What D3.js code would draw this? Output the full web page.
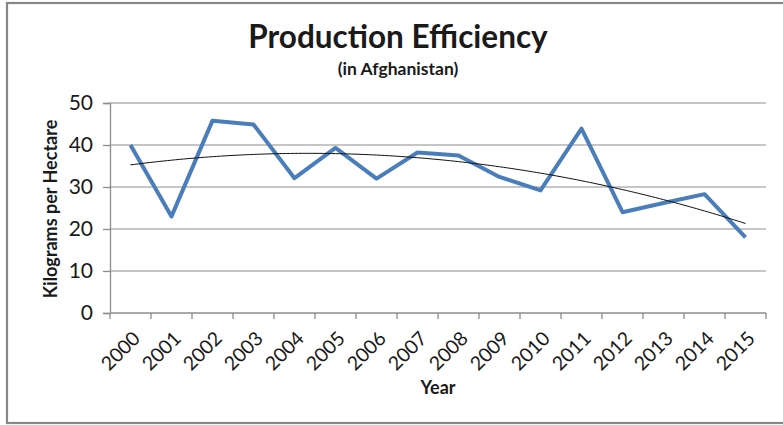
<!DOCTYPE html>
<html>
<head>
<meta charset="utf-8">
<script src="https://cdn.jsdelivr.net/npm/d3@7"></script>
<style>
  html, body { margin: 0; padding: 0; background: #fff; }
  svg { display: block; }
  text { font-family: Lato, "Open Sans", sans-serif; fill: #1a1a1a; }
</style>
</head>
<body>
<svg id="chart" width="783" height="425"></svg>
<script>
// Yield per year, kilograms per hectare
const years = ["2000","2001","2002","2003","2004","2005","2006","2007",
               "2008","2009","2010","2011","2012","2013","2014","2015"];
const yieldValues = [40, 23, 45.8, 44.9, 32.1, 39.3, 32, 38.2,
                     37.5, 32.4, 29.2, 43.9, 24, 26.2, 28.3, 18];
const yTicks = [0, 10, 20, 30, 40, 50];

const titleText = "Production Efficiency";
const subtitleText = "(in Afghanistan)";
const yTitle = "Kilograms per Hectare";
const xTitle = "Year";

const svg = d3.select("#chart");
const W = 783, H = 425;
const plot = { left: 110, right: 766, top: 103, bottom: 313 };

// frame
svg.append("rect")
  .attr("x", 7).attr("y", 3)
  .attr("width", W).attr("height", 420)
  .attr("fill", "#fff").attr("stroke", "#878787").attr("stroke-width", 2.2);

const x = d3.scaleBand().domain(years).range([plot.left, plot.right]).padding(0);
const y = d3.scaleLinear().domain([0, 50]).range([plot.bottom, plot.top]);
const cx = d => x(d) + x.bandwidth() / 2;

// horizontal gridlines
svg.append("g")
  .selectAll("line")
  .data(yTicks.filter(t => t > 0))
  .join("line")
  .attr("x1", plot.left).attr("x2", plot.right)
  .attr("y1", d => y(d)).attr("y2", d => y(d))
  .attr("stroke", "#b3b3b3").attr("stroke-width", 1.3);

// y axis
const yAxis = svg.append("g")
  .attr("transform", `translate(${plot.left},0)`)
  .call(d3.axisLeft(y).tickValues(yTicks).tickSize(7).tickPadding(10).tickFormat(d3.format("d")));
yAxis.select(".domain").attr("stroke", "#8c8c8c").attr("stroke-width", 1.3);
yAxis.selectAll(".tick line").attr("stroke", "#8c8c8c").attr("stroke-width", 1.3);
yAxis.selectAll(".tick text")
  .attr("font-size", 21).attr("font-family", "Lato, sans-serif").attr("fill", "#1a1a1a");

// x axis: ticks at category boundaries
const boundaries = years.map(d => x(d)).concat([plot.right]);
svg.append("line")
  .attr("x1", plot.left).attr("x2", plot.right)
  .attr("y1", plot.bottom).attr("y2", plot.bottom)
  .attr("stroke", "#8c8c8c").attr("stroke-width", 1.3);
svg.append("g")
  .selectAll("line")
  .data(boundaries)
  .join("line")
  .attr("x1", d => d).attr("x2", d => d)
  .attr("y1", plot.bottom).attr("y2", plot.bottom + 6)
  .attr("stroke", "#8c8c8c").attr("stroke-width", 1.3);

svg.append("g")
  .selectAll("text")
  .data(years)
  .join("text")
  .attr("transform", d => `translate(${cx(d) + 6},${plot.bottom + 22}) rotate(-45)`)
  .attr("text-anchor", "end")
  .attr("dy", "0.35em")
  .attr("font-size", 19.5)
  .text(d => d);

// data line
const line = d3.line()
  .x((d, i) => cx(years[i]))
  .y(d => y(d));
svg.append("path")
  .datum(yieldValues)
  .attr("d", line)
  .attr("fill", "none")
  .attr("stroke", "#4a7ebb")
  .attr("stroke-width", 4)
  .attr("stroke-linejoin", "round");

// second-order polynomial trendline (least squares fit of the series)
function quadFit(vals) {
  let s = [0, 0, 0, 0, 0], t = [0, 0, 0];
  vals.forEach((v, i) => {
    const xi = i + 1;
    for (let k = 0; k < 5; k++) s[k] += Math.pow(xi, k);
    for (let k = 0; k < 3; k++) t[k] += v * Math.pow(xi, k);
  });
  const A = [[s[0], s[1], s[2], t[0]], [s[1], s[2], s[3], t[1]], [s[2], s[3], s[4], t[2]]];
  for (let c = 0; c < 3; c++) {
    for (let r = c + 1; r < 3; r++) {
      const f = A[r][c] / A[c][c];
      for (let k = c; k < 4; k++) A[r][k] -= f * A[c][k];
    }
  }
  const b = [0, 0, 0];
  for (let r = 2; r >= 0; r--) {
    let acc = A[r][3];
    for (let k = r + 1; k < 3; k++) acc -= A[r][k] * b[k];
    b[r] = acc / A[r][r];
  }
  return xi => b[0] + b[1] * xi + b[2] * xi * xi;
}
const trend = quadFit(yieldValues);
const step = x.bandwidth();
const trendPts = d3.range(1, years.length + 0.001, 0.1)
  .map(xi => [cx(years[0]) + (xi - 1) * step, y(trend(xi))]);
svg.append("path")
  .attr("d", d3.line()(trendPts))
  .attr("fill", "none")
  .attr("stroke", "#111")
  .attr("stroke-width", 1);

// titles
svg.append("text")
  .attr("x", 398).attr("y", 48)
  .attr("text-anchor", "middle")
  .attr("font-size", 31.5).attr("font-weight", "bold")
  .text(titleText);
svg.append("text")
  .attr("x", 398).attr("y", 75)
  .attr("text-anchor", "middle")
  .attr("font-size", 17.5).attr("font-weight", "bold")
  .text(subtitleText);
svg.append("text")
  .attr("transform", `translate(57,${(plot.top + plot.bottom) / 2 + 1}) rotate(-90)`)
  .attr("text-anchor", "middle")
  .attr("font-size", 18).attr("font-weight", "bold")
  .text(yTitle);
svg.append("text")
  .attr("x", (plot.left + plot.right) / 2).attr("y", 394)
  .attr("text-anchor", "middle")
  .attr("font-size", 18).attr("font-weight", "bold")
  .text(xTitle);
</script>
</body>
</html>
